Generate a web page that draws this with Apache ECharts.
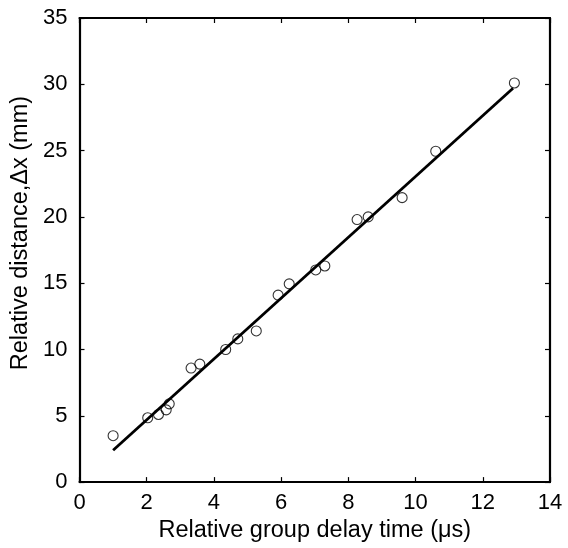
<!DOCTYPE html>
<html>
<head>
<meta charset="utf-8">
<script src="https://cdn.jsdelivr.net/npm/echarts@6/dist/echarts.min.js"></script>
<style>html,body{margin:0;padding:0;background:#fff}#c{width:568px;height:548px}</style>
</head>
<body>
<div id="c"></div>
<script>
// Measured points (relative group delay time in µs, relative distance in mm)
var delayTime = [1.0, 2.03, 2.35, 2.58, 2.67, 3.32, 3.58, 4.35, 4.71, 5.26, 5.91, 6.24, 7.03, 7.3, 8.26, 8.59, 9.6, 10.6, 12.94];
var distance  = [3.5, 4.85, 5.1, 5.45, 5.9, 8.6, 8.9, 10.0, 10.8, 11.4, 14.1, 14.95, 16.0, 16.3, 19.8, 20.0, 21.45, 24.95, 30.1];
// Fitted line endpoints
var fitX = [1.0, 12.9];
var fitY = [2.4, 29.7];
var xTicks = [0, 14, 2];
var yTicks = [0, 35, 5];

var font = '"Liberation Sans", Arial, Helvetica, sans-serif';
var chart = echarts.init(document.getElementById('c'));
function axisCommon(extra){
  return Object.assign({
    type:'value',
    axisLine:{show:true, onZero:false, lineStyle:{color:'#000', width:2.2}},
    axisTick:{show:true, inside:true, length:5, lineStyle:{color:'#000', width:1.2}},
    splitLine:{show:false},
  }, extra);
}
chart.setOption({
  animation:false,
  backgroundColor:'#fff',
  grid:{left:79.5, right:18, top:18, bottom:60, containLabel:false},
  xAxis:[
    axisCommon({min:xTicks[0], max:xTicks[1], interval:xTicks[2], position:'bottom',
      axisLabel:{color:'#000', fontSize:22, fontFamily:font, margin:10},
      name:'Relative group delay time (\u03bcs)', nameLocation:'middle', nameGap:32,
      nameTextStyle:{color:'#000', fontSize:23.5, fontFamily:font}}),
    axisCommon({min:xTicks[0], max:xTicks[1], interval:xTicks[2], position:'top', axisLabel:{show:false}})
  ],
  yAxis:[
    axisCommon({min:yTicks[0], max:yTicks[1], interval:yTicks[2], position:'left',
      axisLabel:{color:'#000', fontSize:22, fontFamily:font, margin:12},
      name:'Relative distance,\u0394x (mm)', nameLocation:'middle', nameGap:45,
      nameTextStyle:{color:'#000', fontSize:23.5, fontFamily:font, padding:[0,0,0,34]}}),
    axisCommon({min:yTicks[0], max:yTicks[1], interval:yTicks[2], position:'right', axisLabel:{show:false}})
  ],
  series:[
    {type:'line', data:fitX.map(function(x,i){return [x, fitY[i]];}), symbol:'none',
     lineStyle:{color:'#000', width:2.8}, z:2},
    {type:'scatter', data:delayTime.map(function(x,i){return [x, distance[i]];}), symbol:'circle', symbolSize:10,
     itemStyle:{color:'rgba(255,255,255,0)', borderColor:'#000', borderWidth:1.1}, z:3}
  ]
});
</script>
</body>
</html>
